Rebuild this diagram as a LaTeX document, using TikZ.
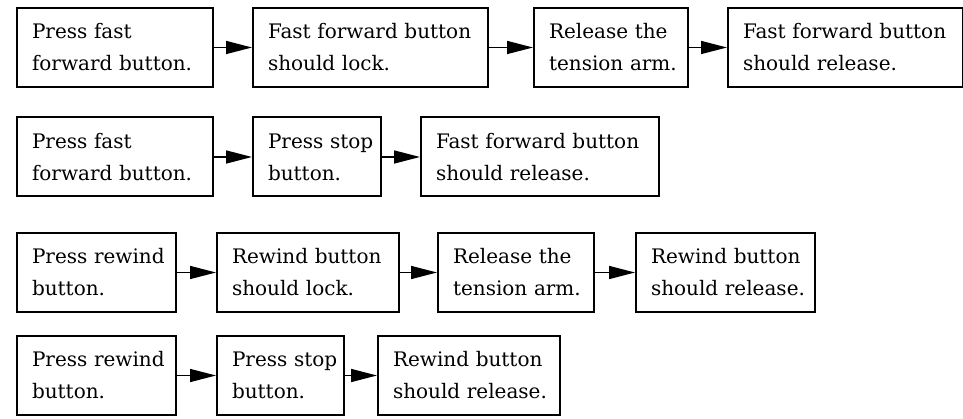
\documentclass[tikz,border=0pt]{standalone}
\usepackage{fontspec}
\setmainfont{DejaVu Serif}
\usetikzlibrary{arrows.meta}

\begin{document}
\begin{tikzpicture}[x=1pt, y=1pt, ->, >={Triangle[length=26pt, width=13pt]}, line width=1.5pt,
  stepbox/.style={draw, line width=2pt, anchor=west, minimum height=79pt, inner xsep=0pt, inner ysep=0pt,
    align=left, font=\fontsize{20}{32}\selectfont, execute at begin node={\leftskip=15pt}}]
\path[use as bounding box] (0,0) rectangle (963,-419);
% fast forward, tension arm
\node[stepbox, text width=196pt] (ffa) at (16,-47.5) {Press fast\\forward button.};
\node[stepbox, text width=235pt] (ffb) at (252,-47.5) {Fast forward button\\should lock.};
\node[stepbox, text width=154pt] (ffc) at (533,-47.5) {Release the\\tension arm.};
\node[stepbox, text width=235pt] (ffd) at (727,-47.5) {Fast forward button\\should release.};
\path (ffa) edge (ffb);
\path (ffb) edge (ffc);
\path (ffc) edge (ffd);
% fast forward, stop
\node[stepbox, text width=196pt] (fsa) at (16,-157) {Press fast\\forward button.};
\node[stepbox, text width=128pt] (fsb) at (252,-157) {Press stop\\button.};
\node[stepbox, text width=238pt] (fsc) at (420,-157) {Fast forward button\\should release.};
\path (fsa) edge (fsb);
\path (fsb) edge (fsc);
% rewind, tension arm
\node[stepbox, text width=159pt] (rwa) at (16,-272.5) {Press rewind\\button.};
\node[stepbox, text width=182pt] (rwb) at (216,-272.5) {Rewind button\\should lock.};
\node[stepbox, text width=156pt] (rwc) at (437,-272.5) {Release the\\tension arm.};
\node[stepbox, text width=179pt] (rwd) at (635,-272.5) {Rewind button\\should release.};
\path (rwa) edge (rwb);
\path (rwb) edge (rwc);
\path (rwc) edge (rwd);
% rewind, stop
\node[stepbox, text width=159pt] (rsa) at (16,-375.5) {Press rewind\\button.};
\node[stepbox, text width=127pt] (rsb) at (216,-375.5) {Press stop\\button.};
\node[stepbox, text width=182pt] (rsc) at (377,-375.5) {Rewind button\\should release.};
\path (rsa) edge (rsb);
\path (rsb) edge (rsc);
\end{tikzpicture}
\end{document}
